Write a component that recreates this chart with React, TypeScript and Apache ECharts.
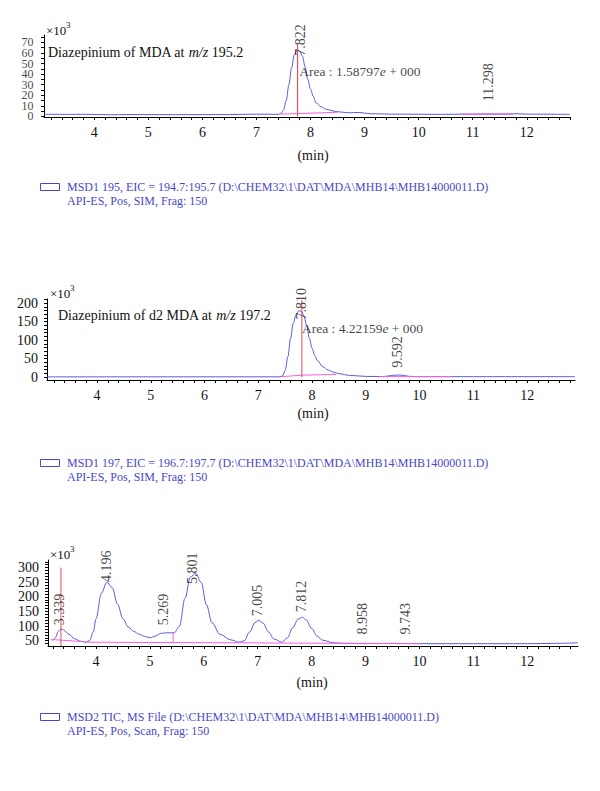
import React, { useEffect, useRef } from "react";
import * as echarts from "echarts";

const FONT = '"Liberation Serif", "DejaVu Serif", serif';
const BLUE = "#5a5ae0";
const PINK = "#ff5ce0";
const RED = "#e2505a";
const LEGEND = "#4848cc";

// ---------- axis tick labels ----------
const xLabels = [4, 5, 6, 7, 8, 9, 10, 11, 12];
const y1Labels = [0, 10, 20, 30, 40, 50, 60, 70];
const y2Labels = [0, 50, 100, 150, 200];
const y3Labels = [50, 100, 150, 200, 250, 300];

// ---------- panel 1: EIC 195 (x10^3) ----------
const eic195: number[][] = [
  [3.07, 2], [3.9, 2], [4.3, 1.6], [4.6, 1.8], [5.5, 1.7], [6.5, 1.8], [7.0, 2.2], [7.4, 2],
  [7.45, 2.5], [7.5, 6], [7.55, 15], [7.6, 30], [7.65, 46], [7.7, 58], [7.75, 63], [7.8, 62],
  [7.85, 57], [7.9, 47], [7.95, 35], [8.0, 26], [8.05, 19], [8.1, 13], [8.2, 9], [8.3, 6.5],
  [8.5, 4.5], [8.7, 3.5], [8.9, 3.8], [9.1, 2.6], [9.5, 2.2], [10.5, 2], [10.8, 2.2],
  [11.7, 2.2], [11.8, 2.6], [12.0, 2.2], [12.8, 2],
];
const baseline195: number[][][] = [
  [[7.45, 2.2], [8.5, 4]],
  [[10.8, 2.2], [11.75, 2.6]],
];
const apex195 = [7.76, 68];
const peakRt195 = [7.822, 11.298];
const peakLabelLevel195 = [57, 14];
const area195 = { mantissa: "1.58797", exponent: "000", rt: 7.8, level: 42 };

// ---------- panel 2: EIC 197 (x10^3) ----------
const eic197: number[][] = [
  [3.07, 0.5], [5.0, 0.6], [7.4, 0.6], [7.45, 3], [7.5, 18], [7.55, 55], [7.6, 105],
  [7.65, 145], [7.7, 168], [7.75, 179], [7.8, 178], [7.85, 165], [7.9, 138], [7.95, 105],
  [8.0, 78], [8.05, 58], [8.1, 44], [8.2, 28], [8.3, 19], [8.4, 13], [8.5, 9], [8.7, 4.5],
  [9.0, 1.8], [9.3, 1.2], [9.4, 2.5], [9.5, 4.5], [9.6, 5.5], [9.7, 4.5], [9.8, 2],
  [10.0, 1], [12.89, 1],
];
const baseline197: number[][][] = [
  [[7.43, 1], [7.8, 5], [8.45, 7]],
  [[9.25, 1.2], [10.6, 1.2]],
];
const apex197 = [7.81, 208];
const peakRt197 = [7.81, 9.592];
const peakLabelLevel197 = [154, 24];
const area197 = { mantissa: "4.22159", exponent: "000", rt: 7.82, level: 130 };

// ---------- panel 3: TIC (x10^3) ----------
const tic: number[][] = [
  [3.16, 55], [3.2, 52], [3.25, 62], [3.3, 82], [3.35, 90], [3.4, 87], [3.5, 72], [3.6, 57],
  [3.7, 49], [3.8, 45], [3.88, 50], [3.95, 80], [4.0, 125], [4.1, 212], [4.2, 250], [4.3, 232],
  [4.4, 175], [4.5, 125], [4.6, 97], [4.7, 82], [4.8, 72], [4.9, 65], [5.0, 60], [5.1, 66],
  [5.2, 75], [5.3, 77], [5.45, 77], [5.55, 100], [5.65, 195], [5.75, 268], [5.85, 280],
  [5.95, 250], [6.05, 172], [6.15, 112], [6.3, 72], [6.5, 53], [6.65, 45], [6.75, 50],
  [6.85, 80], [6.95, 112], [7.02, 120], [7.1, 110], [7.2, 80], [7.3, 56], [7.45, 45],
  [7.55, 60], [7.65, 95], [7.75, 124], [7.83, 130], [7.9, 121], [8.0, 92], [8.1, 66],
  [8.2, 52], [8.4, 43], [8.6, 41], [9.0, 40], [9.5, 41], [10.0, 40], [11.0, 40], [12.0, 40],
  [12.5, 41], [12.94, 43],
];
const baselineTic: number[][][] = [
  [[3.2, 54], [3.75, 47]],
  [[3.8, 45], [5.0, 44], [6.65, 43], [7.45, 42], [10.0, 40]],
  [[5.43, 44], [5.43, 77]],
];
const apexTic = [3.35, 300];
const peakRtTic = [3.339, 4.196, 5.269, 5.801, 7.005, 7.812, 8.958, 9.743];
const peakLabelLevelTic = [101, 249, 101, 242, 132, 146, 70, 70];

// ---------- legend texts ----------
const legend195 = ["MSD1 195, EIC = 194.7:195.7 (D:\\CHEM32\\1\\DAT\\MDA\\MHB14\\MHB14000011.D)", "API-ES, Pos, SIM, Frag: 150"];
const legend197 = ["MSD1 197, EIC = 196.7:197.7 (D:\\CHEM32\\1\\DAT\\MDA\\MHB14\\MHB14000011.D)", "API-ES, Pos, SIM, Frag: 150"];
const legendTic = ["MSD2 TIC, MS File (D:\\CHEM32\\1\\DAT\\MDA\\MHB14\\MHB14000011.D)", "API-ES, Pos, Scan, Frag: 150"];

const X1_MIN = 3.07;

function steps(from: number, to: number, step: number): number[] {
  const out: number[] = [];
  for (let v = from; v <= to + 1e-9; v += step) out.push(Math.round(v * 1000) / 1000);
  return out;
}

function xAxis(grid: number, min: number, max: number) {
  return {
    type: "value",
    gridIndex: grid,
    min,
    max,
    axisLine: { show: true, onZero: false, lineStyle: { color: "#000", width: 1 } },
    axisTick: { show: true, length: 3, customValues: steps(3.2, 12.8, 0.2), lineStyle: { color: "#000" } },
    axisLabel: {
      customValues: xLabels, margin: 8, fontFamily: FONT, fontSize: 14, color: "#111",
      showMinLabel: true, showMaxLabel: true,
    },
    splitLine: { show: false },
  };
}

function yAxis(grid: number, min: number, max: number, labels: number[], ticks: number[], margin: number, showLabels = true) {
  return {
    type: "value",
    gridIndex: grid,
    min,
    max,
    axisLine: { show: true, onZero: false, lineStyle: { color: "#000", width: 1 } },
    axisTick: { show: true, length: 3, customValues: ticks, lineStyle: { color: "#000" } },
    axisLabel: {
      show: showLabels,
      customValues: labels, margin, fontFamily: FONT, fontSize: 14, color: "#111",
      showMinLabel: true, showMaxLabel: true,
    },
    splitLine: { show: false },
  };
}

// dense tick labels of panel 1 y-axis, placed through the axis scale
function yLabelSeries(grid: number, xAt: number, labels: number[]) {
  return {
    type: "scatter",
    xAxisIndex: grid,
    yAxisIndex: grid,
    data: labels.map((v) => [xAt, v]),
    symbolSize: 1,
    itemStyle: { color: "rgba(0,0,0,0)" },
    clip: false,
    silent: true,
    label: {
      show: true,
      position: "left",
      distance: 10,
      formatter: (p: any) => String(p.value[1]),
      fontFamily: FONT,
      fontSize: 12,
      lineHeight: 10,
      color: "#111",
    },
  };
}

function lineSeries(grid: number, data: number[][], color: string, width = 1, z = 2) {
  return {
    type: "line",
    xAxisIndex: grid,
    yAxisIndex: grid,
    data,
    smooth: 0.35,
    smoothMonotone: "x",
    symbol: "none",
    lineStyle: { color, width },
    z,
    silent: true,
  };
}

function straight(grid: number, data: number[][], color: string, width = 1, z = 3) {
  return {
    type: "line",
    xAxisIndex: grid,
    yAxisIndex: grid,
    data,
    symbol: "none",
    lineStyle: { color, width },
    z,
    silent: true,
  };
}

function peakLabels(grid: number, rts: number[], levels: number[]) {
  return {
    type: "scatter",
    xAxisIndex: grid,
    yAxisIndex: grid,
    data: rts.map((rt, i) => [rt, levels[i]]),
    symbolSize: 1,
    itemStyle: { color: "rgba(0,0,0,0)" },
    z: 5,
    silent: true,
    label: {
      show: true,
      position: [0, 0],
      rotate: 90,
      align: "left",
      verticalAlign: "middle",
      formatter: (p: any) => p.value[0].toFixed(3),
      fontFamily: FONT,
      fontSize: 14,
      color: "#111",
    },
  };
}

function areaLabel(grid: number, a: { mantissa: string; exponent: string; rt: number; level: number }) {
  return {
    type: "scatter",
    xAxisIndex: grid,
    yAxisIndex: grid,
    data: [[a.rt, a.level]],
    symbolSize: 1,
    itemStyle: { color: "rgba(0,0,0,0)" },
    z: 5,
    silent: true,
    label: {
      show: true,
      position: [0, 0],
      align: "left",
      verticalAlign: "middle",
      formatter: `{n|Area : ${a.mantissa}}{i|e}{n| + ${a.exponent}}`,
      rich: {
        n: { fontFamily: FONT, fontSize: 13.5, color: "#111" },
        i: { fontFamily: FONT, fontSize: 13.5, fontStyle: "italic", color: "#111" },
      },
    },
  };
}

function titleText(x: number, y: number, pre: string, post: string) {
  return {
    type: "text",
    x,
    y,
    style: {
      text: `{n|${pre}}{i|m/z}{n|${post}}`,
      verticalAlign: "middle",
      rich: {
        n: { fontFamily: FONT, fontSize: 14, fill: "#111" },
        i: { fontFamily: FONT, fontSize: 14, fontStyle: "italic", fill: "#111" },
      },
    },
  };
}

function exponent(x: number, y: number) {
  return [
    { type: "text", x, y, style: { text: "×10", font: `13px ${FONT}`, fill: "#111", verticalAlign: "middle" } },
    { type: "text", x: x + 20, y: y - 5, style: { text: "3", font: `9px ${FONT}`, fill: "#111", verticalAlign: "middle" } },
  ];
}

function minText(x: number, y: number) {
  return { type: "text", x, y, style: { text: "(min)", font: `14px ${FONT}`, fill: "#111", align: "center", verticalAlign: "middle" } };
}

function legendBlock(y: number, lines: string[]) {
  return [
    { type: "rect", shape: { x: 40.5, y: y - 3.5, width: 19, height: 7 }, style: { fill: "none", stroke: LEGEND, lineWidth: 1 } },
    { type: "text", x: 67, y, style: { text: lines[0], font: `12px ${FONT}`, fill: LEGEND, verticalAlign: "middle" } },
    { type: "text", x: 67, y: y + 14, style: { text: lines[1], font: `12px ${FONT}`, fill: LEGEND, verticalAlign: "middle" } },
  ];
}

export default function App() {
  const ref = useRef<HTMLDivElement>(null);
  useEffect(() => {
    document.body.style.margin = "0";
    if (!ref.current) return;
    const chart = echarts.init(ref.current, undefined, { renderer: "svg" });
    const series: any[] = [
      lineSeries(0, eic195, BLUE),
      ...baseline195.map((s) => straight(0, s, PINK)),
      straight(0, [[apex195[0], 0], [apex195[0], apex195[1]]], RED, 1.2, 4),
      peakLabels(0, peakRt195, peakLabelLevel195),
      areaLabel(0, area195),
      yLabelSeries(0, X1_MIN, y1Labels),

      lineSeries(1, eic197, BLUE),
      ...baseline197.map((s) => straight(1, s, PINK)),
      straight(1, [[apex197[0], 0], [apex197[0], apex197[1]]], RED, 1, 4),
      peakLabels(1, peakRt197, peakLabelLevel197),
      areaLabel(1, area197),

      lineSeries(2, tic, BLUE),
      ...baselineTic.map((s) => straight(2, s, PINK)),
      straight(2, [[apexTic[0], 32], [apexTic[0], apexTic[1]]], RED, 1, 4),
      peakLabels(2, peakRtTic, peakLabelLevelTic),
    ];
    chart.setOption({
      animation: false,
      backgroundColor: "#fff",
      grid: [
        { left: 44, top: 35, width: 526, height: 82 },
        { left: 47, top: 299, width: 528, height: 81 },
        { left: 48, top: 560, width: 530, height: 86 },
      ],
      xAxis: [xAxis(0, X1_MIN, 12.8), xAxis(1, 3.07, 12.89), xAxis(2, 3.11, 12.94)],
      yAxis: [
        yAxis(0, -0.5, 77, y1Labels, steps(0, 75, 5), 10, false),
        yAxis(1, -8, 211, y2Labels, steps(0, 210, 10), 9),
        yAxis(2, 32, 326, y3Labels, steps(40, 320, 10), 9),
      ],
      series,
      graphic: [
        ...exponent(46, 30),
        titleText(48, 52, "Diazepinium of MDA at ", " 195.2"),
        minText(313, 155),
        ...legendBlock(187, legend195),

        ...exponent(50, 293),
        titleText(58, 315, "Diazepinium of d2 MDA at ", " 197.2"),
        minText(313, 413),
        ...legendBlock(463, legend197),

        ...exponent(50, 554),
        minText(312, 682),
        ...legendBlock(717, legendTic),
      ],
    });
    return () => chart.dispose();
  }, []);
  return <div ref={ref} style={{ width: 600, height: 791 }} />;
}
